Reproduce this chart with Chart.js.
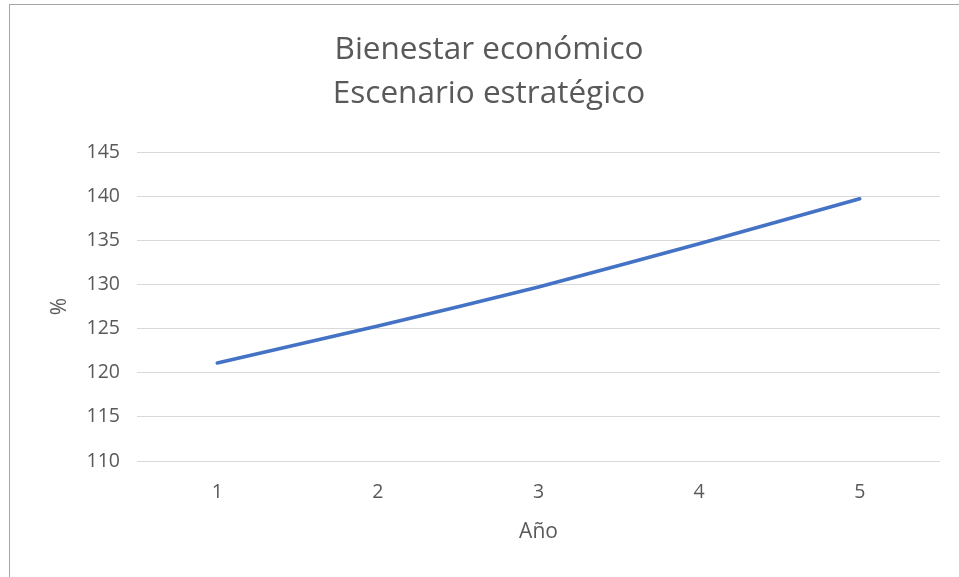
<!DOCTYPE html>
<html>
<head>
<meta charset="utf-8">
<script src="https://cdn.jsdelivr.net/npm/chart.js@4"></script>
<style>
  html, body { margin: 0; padding: 0; background: #fff; overflow: hidden; width: 959px; height: 577px; }
  #frame { position: absolute; left: 9px; top: 4px; width: 1000px; height: 620px; border: 1px solid #a6a6a6; }
  #wrap { position: absolute; left: 0; top: 0; width: 960px; height: 572px; }
</style>
</head>
<body>
<div id="frame"><div id="wrap"><canvas id="chart"></canvas></div></div>
<script>
const titleLines = ["Bienestar económico", "Escenario estratégico"];
const years = ["1", "2", "3", "4", "5"];
const bienestar = [121.1, 125.3, 129.7, 134.6, 139.7];
const yMin = 110;
const yMax = 145;
const yStep = 5;
const xTitle = "Año";
const yTitle = "%";

const textColor = "#595959";
const fontFamily = "'Open Sans', 'Noto Sans', sans-serif";

const ctx = document.getElementById("chart").getContext("2d");
new Chart(ctx, {
  type: "line",
  data: {
    labels: years,
    datasets: [{
      label: "Bienestar",
      data: bienestar,
      borderColor: "#4472C4",
      borderWidth: 3.6,
      borderCapStyle: "round",
      pointRadius: 0,
      tension: 0.15,
      fill: false,
    }],
  },
  options: {
    responsive: true,
    maintainAspectRatio: false,
    animation: false,
    layout: { padding: { left: 28, right: 30, top: 0, bottom: 0 } },
    plugins: {
      legend: { display: false },
      tooltip: { enabled: false },
      title: {
        display: true,
        text: titleLines,
        color: textColor,
        font: { family: fontFamily, size: 31.5, weight: "normal", lineHeight: 44 / 31.5 },
        padding: { top: 23, bottom: 36 },
      },
    },
    scales: {
      x: {
        offset: true,
        grid: { display: false, drawTicks: false },
        border: { display: false },
        ticks: { color: textColor, font: { family: fontFamily, size: 19.5 }, padding: 20 },
        title: {
          display: true,
          text: xTitle,
          color: textColor,
          font: { family: fontFamily, size: 21 },
          padding: { top: 0, bottom: 32 },
        },
        afterFit: (scale) => { scale.height = 116; },
      },
      y: {
        min: yMin,
        max: yMax,
        grid: { color: "#d9d9d9", lineWidth: 1, drawTicks: false },
        border: { display: false },
        ticks: { stepSize: yStep, color: textColor, font: { family: fontFamily, size: 19.5 }, padding: 17 },
        title: {
          display: true,
          text: yTitle,
          color: textColor,
          font: { family: fontFamily, size: 21 },
          padding: { top: 9, bottom: 0 },
        },
        afterFit: (scale) => { scale.width = 99; },
      },
    },
  },
});
</script>
</body>
</html>
